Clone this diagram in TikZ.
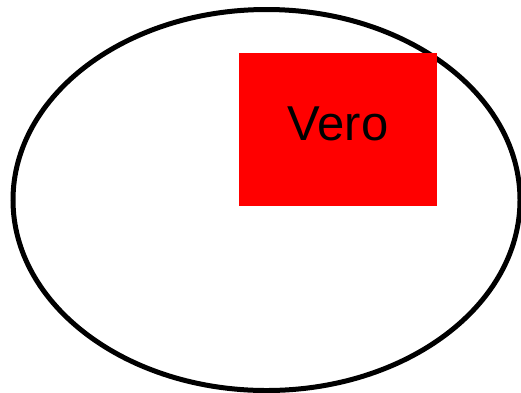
\documentclass[tikz,border=0pt]{standalone}
\usepackage{fontspec}
\setmainfont{Liberation Sans}
\usepackage{tikz}
\usetikzlibrary{shapes.geometric}
\definecolor{verored}{RGB}{255,0,0}

\begin{document}
\begin{tikzpicture}[
    x=1pt, y=-1pt,
    field/.style={draw, ellipse, line width=5pt, inner sep=0pt,
                  minimum width=507pt, minimum height=381pt},
    block/.style={fill=verored, inner sep=0pt,
                  minimum width=198pt, minimum height=153pt,
                  font=\fontsize{49}{49}\selectfont,
                  text height=35pt, text depth=13pt},
]
    \useasboundingbox (0,0) rectangle (521,392);
    \node[field] (world) at (266.5,200) {};
    \node[block] (vero) at (338,129.5) {Vero};
\end{tikzpicture}
\end{document}
